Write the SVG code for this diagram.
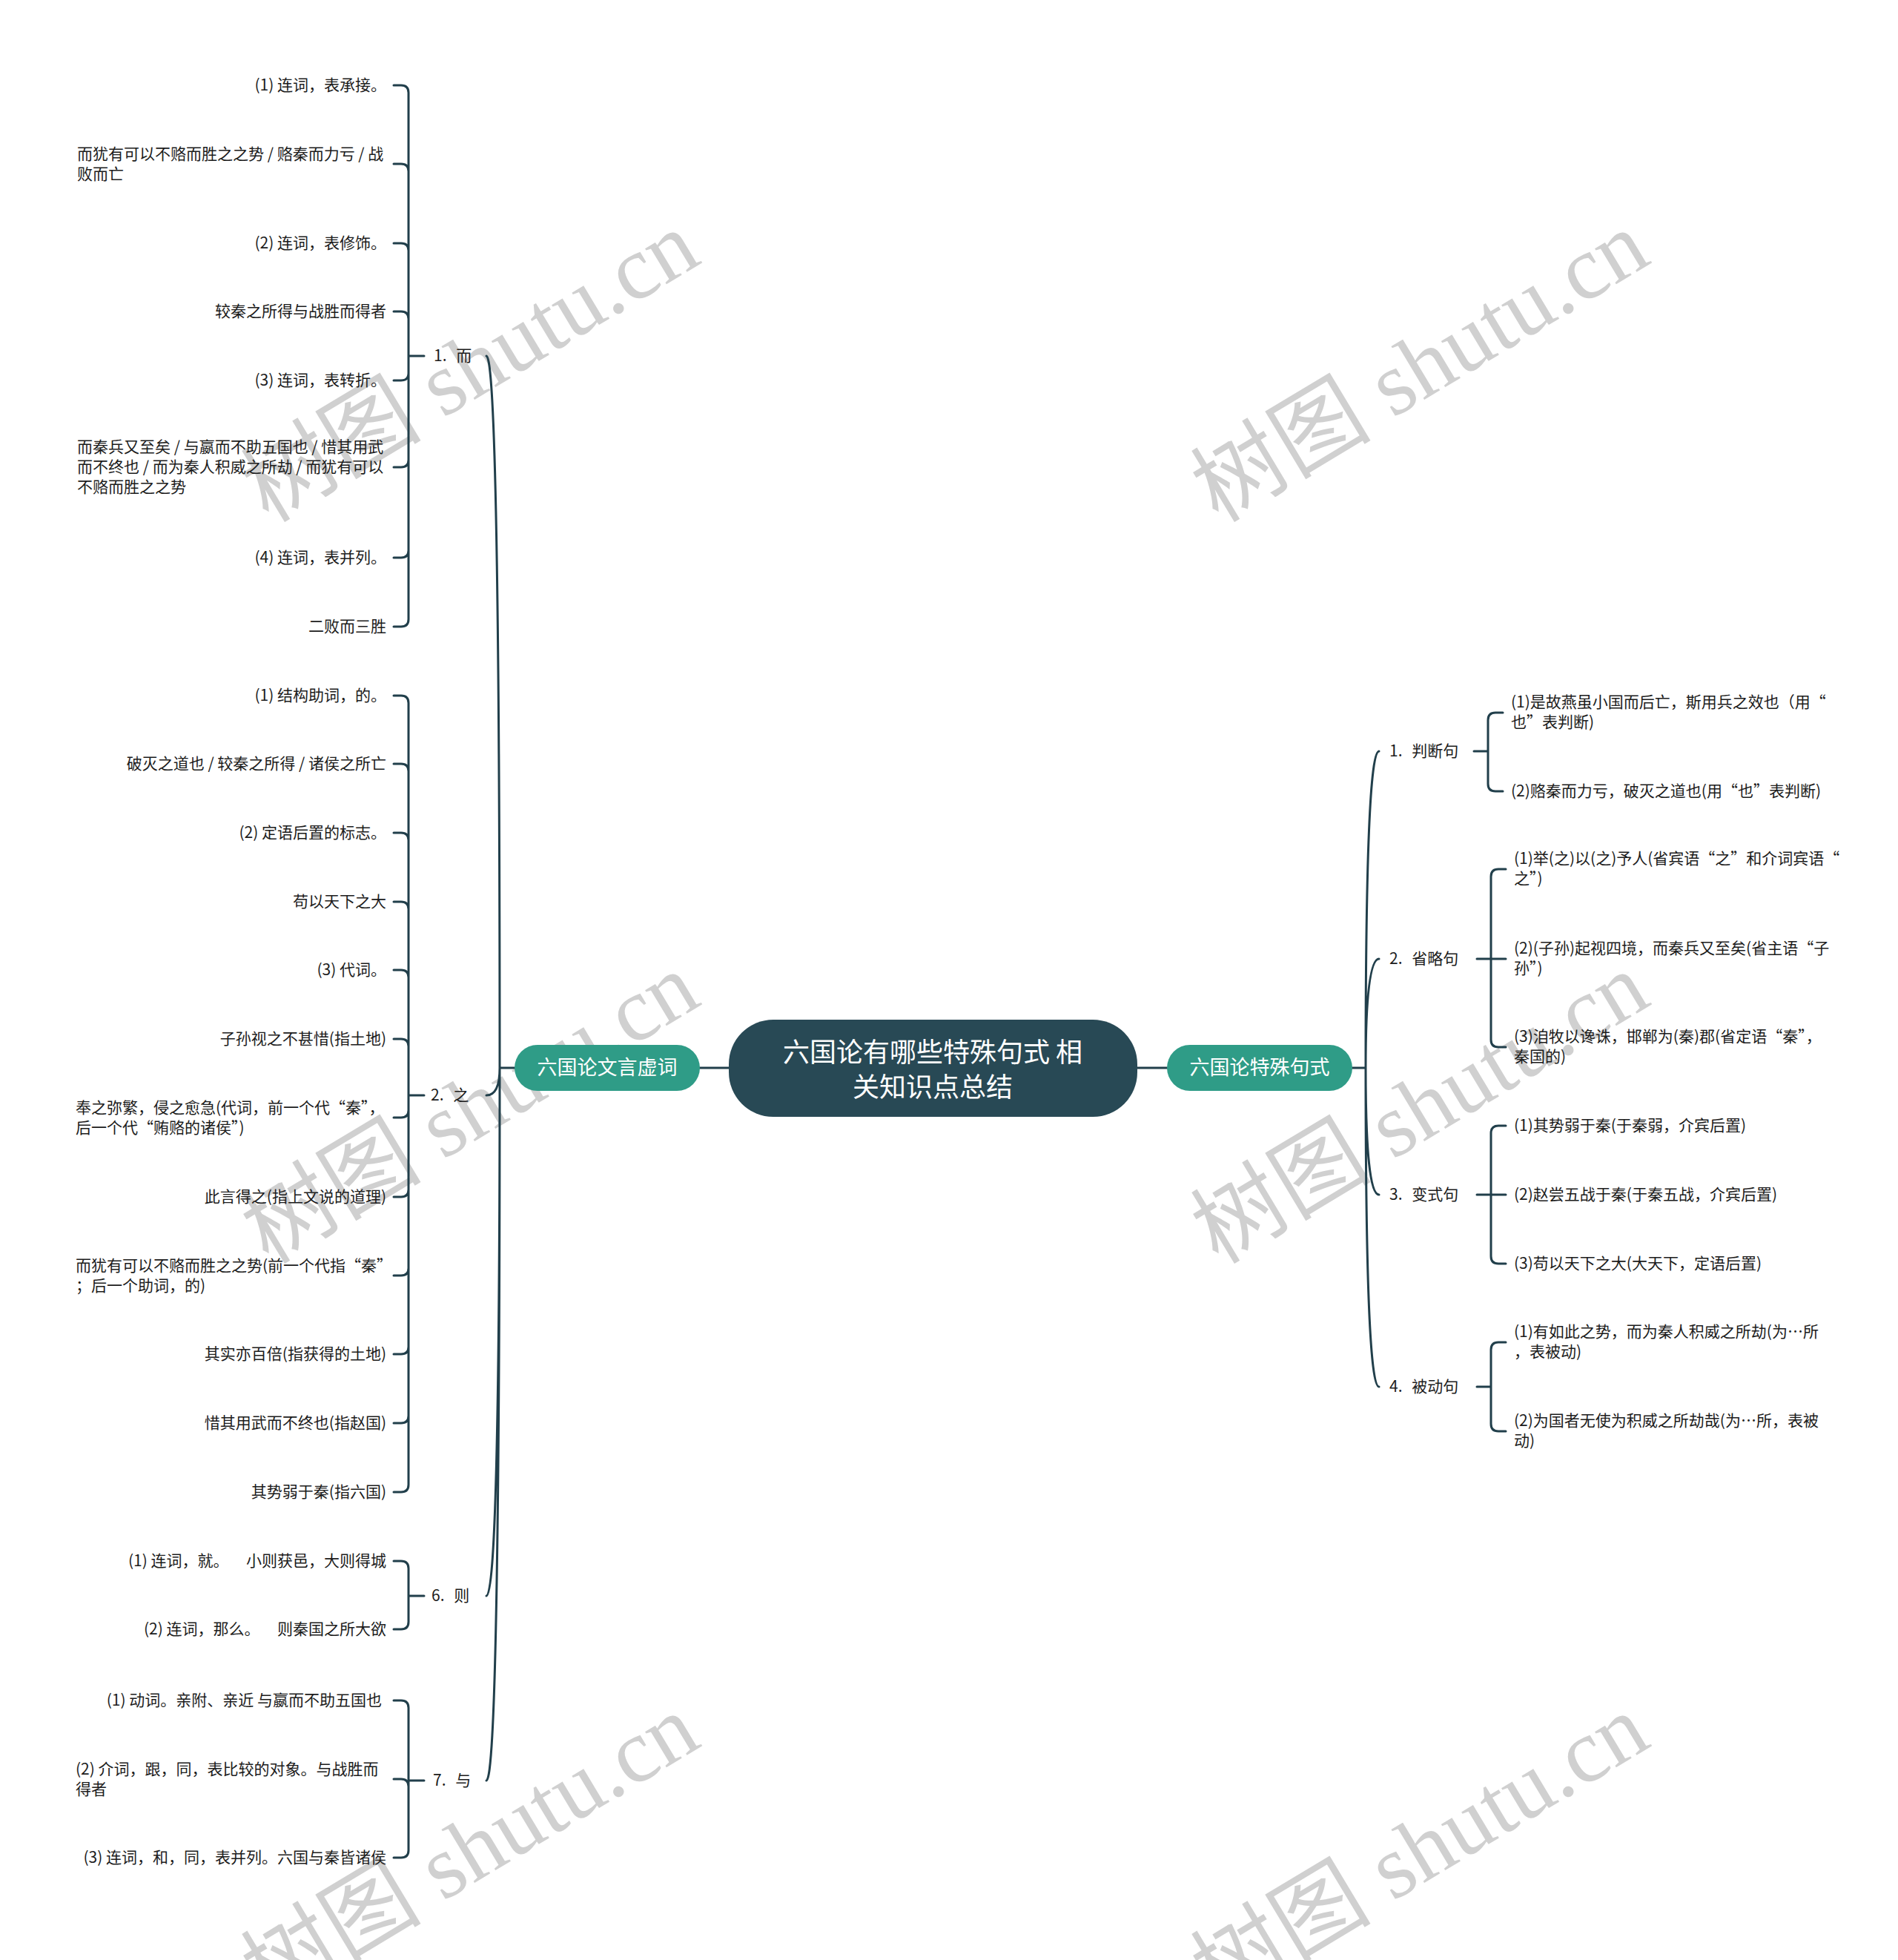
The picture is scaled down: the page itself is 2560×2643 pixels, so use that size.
<svg xmlns="http://www.w3.org/2000/svg" width="2560" height="2643" viewBox="0 0 2560 2643">
<style>
text{font-family:"Noto Sans CJK SC","Noto Sans",sans-serif}
.wm{font-family:"Liberation Serif","Noto Sans CJK SC",serif;font-size:122px;fill:#d0d0d0}
.leaf{font-size:21px;fill:#1c1c1c;white-space:pre}
.end{text-anchor:end}
.lbl{font-size:21px;fill:#1c1c1c;word-spacing:8px}
.ln{fill:none;stroke:#213f4b;stroke-width:3;stroke-linecap:round;stroke-linejoin:round}
.main{fill:#2f9c87}
.mt{font-size:27px;fill:#ffffff;text-anchor:middle}
.rt{font-size:36px;fill:#ffffff;text-anchor:middle}
</style>
<rect width="2560" height="2643" fill="#ffffff"/>
<g id="watermarks">
<text class="wm" transform="translate(362,706) rotate(-31)">树图 shutu.cn</text>
<text class="wm" transform="translate(1643,706) rotate(-31)">树图 shutu.cn</text>
<text class="wm" transform="translate(362,1706) rotate(-31)">树图 shutu.cn</text>
<text class="wm" transform="translate(1643,1706) rotate(-31)">树图 shutu.cn</text>
<text class="wm" transform="translate(362,2706) rotate(-31)">树图 shutu.cn</text>
<text class="wm" transform="translate(1643,2706) rotate(-31)">树图 shutu.cn</text>
</g>
<g id="connectors" class="ln">
<path d="M944 1440H983M1534 1440H1574"/>
<path d="M694 1440H674M674 1440Q674 480 656 480M674 1440Q674 1477 656 1477M674 1440Q674 2152 656 2152M674 1440Q674 2401 656 2401"/>
<path d="M1824 1440H1842M1842 1440Q1842 1013 1860 1013M1842 1440Q1842 1293 1860 1293M1842 1440Q1842 1611 1860 1611M1842 1440Q1842 1870 1860 1870"/>
<path d="M572 480H551V125Q551 115 541 115H531M551 480V231Q551 221 541 221H531M551 480V338Q551 328 541 328H531M551 480V430Q551 420 541 420H531M551 480V503Q551 513 541 513H531M551 480V620Q551 630 541 630H531M551 480V742Q551 752 541 752H531M551 480V835Q551 845 541 845H531"/>
<path d="M572 1477H551V948Q551 938 541 938H531M551 1477V1040Q551 1030 541 1030H531M551 1477V1133Q551 1123 541 1123H531M551 1477V1226Q551 1216 541 1216H531M551 1477V1318Q551 1308 541 1308H531M551 1477V1411Q551 1401 541 1401H531M551 1477V1497Q551 1507 541 1507H531M551 1477V1604Q551 1614 541 1614H531M551 1477V1710Q551 1720 541 1720H531M551 1477V1816Q551 1826 541 1826H531M551 1477V1909Q551 1919 541 1919H531M551 1477V2002Q551 2012 541 2012H531"/>
<path d="M572 2152H551V2115Q551 2105 541 2105H531M551 2152V2187Q551 2197 541 2197H531"/>
<path d="M572 2401H551V2303Q551 2293 541 2293H531M551 2401V2409Q551 2399 541 2399H531M551 2401V2495Q551 2505 541 2505H531"/>
<path d="M1988 1013H2007V971Q2007 961 2017 961H2027M2007 1013V1057Q2007 1067 2017 1067H2027"/>
<path d="M1992 1293H2011V1182Q2011 1172 2021 1172H2031M2011 1293H2031M2011 1293V1402Q2011 1412 2021 1412H2031"/>
<path d="M1992 1611H2011V1528Q2011 1518 2021 1518H2031M2011 1611H2031M2011 1611V1694Q2011 1704 2021 1704H2031"/>
<path d="M1992 1870H2011V1820Q2011 1810 2021 1810H2031M2011 1870V1920Q2011 1930 2021 1930H2031"/>
</g>
<g id="root">
<rect x="983" y="1375" width="551" height="131" rx="60" fill="#284955"/>
<text class="rt" x="1258" y="1432">六国论有哪些特殊句式 相</text>
<text class="rt" x="1258" y="1479">关知识点总结</text>
</g>
<g id="main-left">
<rect class="main" x="694" y="1409" width="250" height="62" rx="31"/>
<text class="mt" x="819" y="1449">六国论文言虚词</text>
</g>
<g id="main-right">
<rect class="main" x="1574" y="1409" width="250" height="62" rx="31"/>
<text class="mt" x="1699" y="1449">六国论特殊句式</text>
</g>
<g id="b1"><text class="lbl" x="585" y="487">1. 而</text></g>
<g id="b1-leaves">
<g id="b1-1"><text class="leaf end" x="521" y="122">(1) 连词，表承接。</text></g>
<g id="b1-2"><text class="leaf" x="104" y="215">而犹有可以不赂而胜之之势 / 赂秦而力亏 / 战</text><text class="leaf" x="104" y="242">败而亡</text></g>
<g id="b1-3"><text class="leaf end" x="521" y="335">(2) 连词，表修饰。</text></g>
<g id="b1-4"><text class="leaf end" x="521" y="427">较秦之所得与战胜而得者</text></g>
<g id="b1-5"><text class="leaf end" x="521" y="520">(3) 连词，表转折。</text></g>
<g id="b1-6"><text class="leaf" x="104" y="610">而秦兵又至矣 / 与嬴而不助五国也 / 惜其用武</text><text class="leaf" x="104" y="637">而不终也 / 而为秦人积威之所劫 / 而犹有可以</text><text class="leaf" x="104" y="664">不赂而胜之之势</text></g>
<g id="b1-7"><text class="leaf end" x="521" y="759">(4) 连词，表并列。</text></g>
<g id="b1-8"><text class="leaf end" x="521" y="852">二败而三胜</text></g>
</g>
<g id="b2"><text class="lbl" x="581" y="1484">2. 之</text></g>
<g id="b2-leaves">
<g id="b2-1"><text class="leaf end" x="521" y="945">(1) 结构助词，的。</text></g>
<g id="b2-2"><text class="leaf end" x="521" y="1037">破灭之道也 / 较秦之所得 / 诸侯之所亡</text></g>
<g id="b2-3"><text class="leaf end" x="521" y="1130">(2) 定语后置的标志。</text></g>
<g id="b2-4"><text class="leaf end" x="521" y="1223">苟以天下之大</text></g>
<g id="b2-5"><text class="leaf end" x="521" y="1315">(3) 代词。</text></g>
<g id="b2-6"><text class="leaf end" x="521" y="1408">子孙视之不甚惜(指土地)</text></g>
<g id="b2-7"><text class="leaf" x="102" y="1501">奉之弥繁，侵之愈急(代词，前一个代“秦”，</text><text class="leaf" x="102" y="1528">后一个代“贿赂的诸侯”)</text></g>
<g id="b2-8"><text class="leaf end" x="521" y="1621">此言得之(指上文说的道理)</text></g>
<g id="b2-9"><text class="leaf" x="102" y="1714">而犹有可以不赂而胜之之势(前一个代指“秦”</text><text class="leaf" x="102" y="1741">；后一个助词，的)</text></g>
<g id="b2-10"><text class="leaf end" x="521" y="1833">其实亦百倍(指获得的土地)</text></g>
<g id="b2-11"><text class="leaf end" x="521" y="1926">惜其用武而不终也(指赵国)</text></g>
<g id="b2-12"><text class="leaf end" x="521" y="2019">其势弱于秦(指六国)</text></g>
</g>
<g id="b6"><text class="lbl" x="582" y="2159">6. 则</text></g>
<g id="b6-leaves">
<g id="b6-1"><text class="leaf end" x="521" y="2112">(1) 连词，就。     小则获邑，大则得城</text></g>
<g id="b6-2"><text class="leaf end" x="521" y="2204">(2) 连词，那么。     则秦国之所大欲</text></g>
</g>
<g id="b7"><text class="lbl" x="584" y="2408">7. 与</text></g>
<g id="b7-leaves">
<g id="b7-1"><text class="leaf end" x="515" y="2300">(1) 动词。亲附、亲近 与嬴而不助五国也</text></g>
<g id="b7-2"><text class="leaf" x="102" y="2393">(2) 介词，跟，同，表比较的对象。与战胜而</text><text class="leaf" x="102" y="2420">得者</text></g>
<g id="b7-3"><text class="leaf end" x="521" y="2512">(3) 连词，和，同，表并列。六国与秦皆诸侯</text></g>
</g>
<g id="r1"><text class="lbl" x="1874" y="1020">1. 判断句</text></g>
<g id="r1-leaves">
<g id="r1-1"><text class="leaf" x="2038" y="954">(1)是故燕虽小国而后亡，斯用兵之效也（用“</text><text class="leaf" x="2038" y="981">也”表判断)</text></g>
<g id="r1-2"><text class="leaf" x="2038" y="1074">(2)赂秦而力亏，破灭之道也(用“也”表判断)</text></g>
</g>
<g id="r2"><text class="lbl" x="1874" y="1300">2. 省略句</text></g>
<g id="r2-leaves">
<g id="r2-1"><text class="leaf" x="2042" y="1165">(1)举(之)以(之)予人(省宾语“之”和介词宾语“</text><text class="leaf" x="2042" y="1192">之”)</text></g>
<g id="r2-2"><text class="leaf" x="2042" y="1286">(2)(子孙)起视四境，而秦兵又至矣(省主语“子</text><text class="leaf" x="2042" y="1313">孙”)</text></g>
<g id="r2-3"><text class="leaf" x="2042" y="1405">(3)洎牧以谗诛，邯郸为(秦)郡(省定语“秦”，</text><text class="leaf" x="2042" y="1432">秦国的)</text></g>
</g>
<g id="r3"><text class="lbl" x="1874" y="1618">3. 变式句</text></g>
<g id="r3-leaves">
<g id="r3-1"><text class="leaf" x="2042" y="1525">(1)其势弱于秦(于秦弱，介宾后置)</text></g>
<g id="r3-2"><text class="leaf" x="2042" y="1618">(2)赵尝五战于秦(于秦五战，介宾后置)</text></g>
<g id="r3-3"><text class="leaf" x="2042" y="1711">(3)苟以天下之大(大天下，定语后置)</text></g>
</g>
<g id="r4"><text class="lbl" x="1874" y="1877">4. 被动句</text></g>
<g id="r4-leaves">
<g id="r4-1"><text class="leaf" x="2042" y="1803">(1)有如此之势，而为秦人积威之所劫(为…所</text><text class="leaf" x="2042" y="1830">，表被动)</text></g>
<g id="r4-2"><text class="leaf" x="2042" y="1923">(2)为国者无使为积威之所劫哉(为…所，表被</text><text class="leaf" x="2042" y="1950">动)</text></g>
</g>
</svg>
